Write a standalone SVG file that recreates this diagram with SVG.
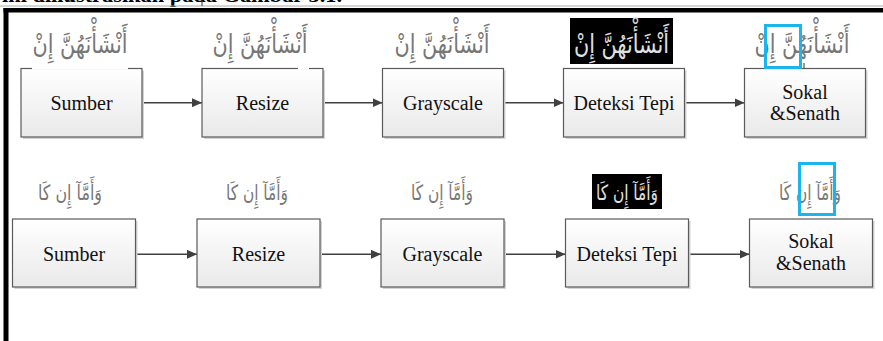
<svg xmlns="http://www.w3.org/2000/svg" width="883" height="341" viewBox="0 0 883 341">
<defs>
<linearGradient id="boxg" x1="0" y1="0" x2="0" y2="1">
<stop offset="0" stop-color="#ffffff"/>
<stop offset="1" stop-color="#e9e9e9"/>
</linearGradient>
<marker id="ah" markerUnits="userSpaceOnUse" markerWidth="11" markerHeight="9" refX="10" refY="4.5" orient="auto">
<path d="M0,0 L10,4.5 L0,9 z" fill="#404040"/>
</marker>
</defs>
<style>
.box{fill:url(#boxg);stroke:#5a5a5a;stroke-width:1.2}
.shadow{fill:#d4d4d4}
.lbl{font-size:20px;fill:#111;text-anchor:middle}
.ar{fill:#777;text-anchor:middle}
.arw{fill:#e0e0e0;text-anchor:middle}
.edge{fill:none;stroke:#404040;stroke-width:1.4;marker-end:url(#ah)}
.sel{fill:none;stroke:#1cb4ec;stroke-width:3}
</style>
<rect width="883" height="341" fill="#ffffff"/>
<text x="2" y="2" font-family="Liberation Serif, serif" font-weight="bold" font-size="21" textLength="340" lengthAdjust="spacingAndGlyphs" fill="#000">ini diilustrasikan pada Gambar 3.1.</text>
<line x1="0" y1="6" x2="883" y2="6" stroke="#aaaaaa" stroke-width="1"/>
<line x1="202" y1="0" x2="202" y2="6" stroke="#333" stroke-width="1"/>
<rect x="3.5" y="8" width="879.5" height="4.5" fill="#000"/>
<rect x="3.5" y="8" width="5" height="333" fill="#000"/>

<g id="connectors">
<line class="edge" x1="142" y1="102.7" x2="202" y2="102.7"/>
<line class="edge" x1="323" y1="102.7" x2="382.5" y2="102.7"/>
<line class="edge" x1="503.5" y1="102.7" x2="563.5" y2="102.7"/>
<line class="edge" x1="684.5" y1="102.7" x2="744.5" y2="102.7"/>
<line class="edge" x1="135.5" y1="254.3" x2="197" y2="254.3"/>
<line class="edge" x1="320" y1="254.3" x2="381" y2="254.3"/>
<line class="edge" x1="504" y1="254.3" x2="565.5" y2="254.3"/>
<line class="edge" x1="688.5" y1="254.3" x2="749.5" y2="254.3"/>
</g>

<g font-family="DejaVu Sans, sans-serif">
<g id="r1-sumber">
<rect class="shadow" x="23" y="70.5" width="121" height="68.5"/>
<rect class="box" x="21" y="68.5" width="121" height="68.5"/>
<rect x="32" y="18" width="96" height="51.5" fill="#fff"/>
<text class="ar" x="80" y="53" font-size="26" textLength="95" lengthAdjust="spacingAndGlyphs">أَنْشَأْنَهُنَّ إِنْ</text>
<text class="lbl" x="81.5" y="109.5" font-family="Liberation Serif, serif">Sumber</text>
</g>
<g id="r1-resize">
<rect class="shadow" x="204" y="70.5" width="121" height="68.5"/>
<rect class="box" x="202" y="68.5" width="121" height="68.5"/>
<rect x="298" y="58" width="11" height="11.5" fill="#fff"/>
<text class="ar" x="260" y="53" font-size="26" textLength="95" lengthAdjust="spacingAndGlyphs">أَنْشَأْنَهُنَّ إِنْ</text>
<text class="lbl" x="262.5" y="109.5" font-family="Liberation Serif, serif">Resize</text>
</g>
<g id="r1-grayscale">
<rect class="shadow" x="384.5" y="70.5" width="121" height="68.5"/>
<rect class="box" x="382.5" y="68.5" width="121" height="68.5"/>
<text class="ar" x="442" y="53" font-size="26" textLength="95" lengthAdjust="spacingAndGlyphs">أَنْشَأْنَهُنَّ إِنْ</text>
<text class="lbl" x="443" y="109.5" font-family="Liberation Serif, serif">Grayscale</text>
</g>
<g id="r1-deteksi">
<rect class="shadow" x="565.5" y="70.5" width="121" height="68.5"/>
<rect class="box" x="563.5" y="68.5" width="121" height="68.5"/>
<rect x="570" y="18" width="103" height="46" fill="#000"/>
<text class="arw" x="621.5" y="53" font-size="26" textLength="95" lengthAdjust="spacingAndGlyphs">أَنْشَأْنَهُنَّ إِنْ</text>
<text class="lbl" x="624" y="109.5" font-family="Liberation Serif, serif">Deteksi Tepi</text>
</g>
<g id="r1-sokal">
<rect class="shadow" x="746.5" y="70.5" width="121" height="68.5"/>
<rect class="box" x="744.5" y="68.5" width="121" height="68.5"/>
<line x1="804" y1="63" x2="804" y2="68.5" stroke="#333" stroke-width="1"/>
<text class="ar" x="802" y="53" font-size="26" textLength="95" lengthAdjust="spacingAndGlyphs">أَنْشَأْنَهُنَّ إِنْ</text>
<rect class="sel" x="765.5" y="25.5" width="35" height="42"/>
<text class="lbl" x="805" y="98.5" font-family="Liberation Serif, serif">Sokal</text>
<text class="lbl" x="805" y="120" font-family="Liberation Serif, serif">&amp;Senath</text>
</g>

<g id="r2-sumber">
<rect class="shadow" x="14.5" y="221" width="123" height="68"/>
<rect class="box" x="12.5" y="219" width="123" height="68"/>
<text class="ar" x="70" y="200" font-size="21" textLength="64" lengthAdjust="spacingAndGlyphs">وَأَمَّآ إِن كَا</text>
<text class="lbl" x="74" y="261" font-family="Liberation Serif, serif">Sumber</text>
</g>
<g id="r2-resize">
<rect class="shadow" x="199" y="221" width="123" height="68"/>
<rect class="box" x="197" y="219" width="123" height="68"/>
<text class="ar" x="257" y="200" font-size="21" textLength="62" lengthAdjust="spacingAndGlyphs">وَأَمَّآ إِن كَا</text>
<text class="lbl" x="258.5" y="261" font-family="Liberation Serif, serif">Resize</text>
</g>
<g id="r2-grayscale">
<rect class="shadow" x="383" y="221" width="123" height="68"/>
<rect class="box" x="381" y="219" width="123" height="68"/>
<text class="ar" x="442" y="200" font-size="21" textLength="62" lengthAdjust="spacingAndGlyphs">وَأَمَّآ إِن كَا</text>
<text class="lbl" x="442.5" y="261" font-family="Liberation Serif, serif">Grayscale</text>
</g>
<g id="r2-deteksi">
<rect class="shadow" x="567.5" y="221" width="123" height="68"/>
<rect class="box" x="565.5" y="219" width="123" height="68"/>
<rect x="592" y="174" width="70" height="35" fill="#000"/>
<text class="arw" x="627" y="200" font-size="21" textLength="62" lengthAdjust="spacingAndGlyphs">وَأَمَّآ إِن كَا</text>
<text class="lbl" x="627" y="261" font-family="Liberation Serif, serif">Deteksi Tepi</text>
</g>
<g id="r2-sokal">
<rect class="shadow" x="751.5" y="221" width="123" height="68"/>
<rect class="box" x="749.5" y="219" width="123" height="68"/>
<text class="ar" x="810" y="200" font-size="21" textLength="62" lengthAdjust="spacingAndGlyphs">وَأَمَّآ إِن كَا</text>
<rect class="sel" x="799.5" y="163.5" width="35" height="51"/>
<text class="lbl" x="811" y="247.5" font-family="Liberation Serif, serif">Sokal</text>
<text class="lbl" x="811" y="269.5" font-family="Liberation Serif, serif">&amp;Senath</text>
</g>
</g>
</svg>
